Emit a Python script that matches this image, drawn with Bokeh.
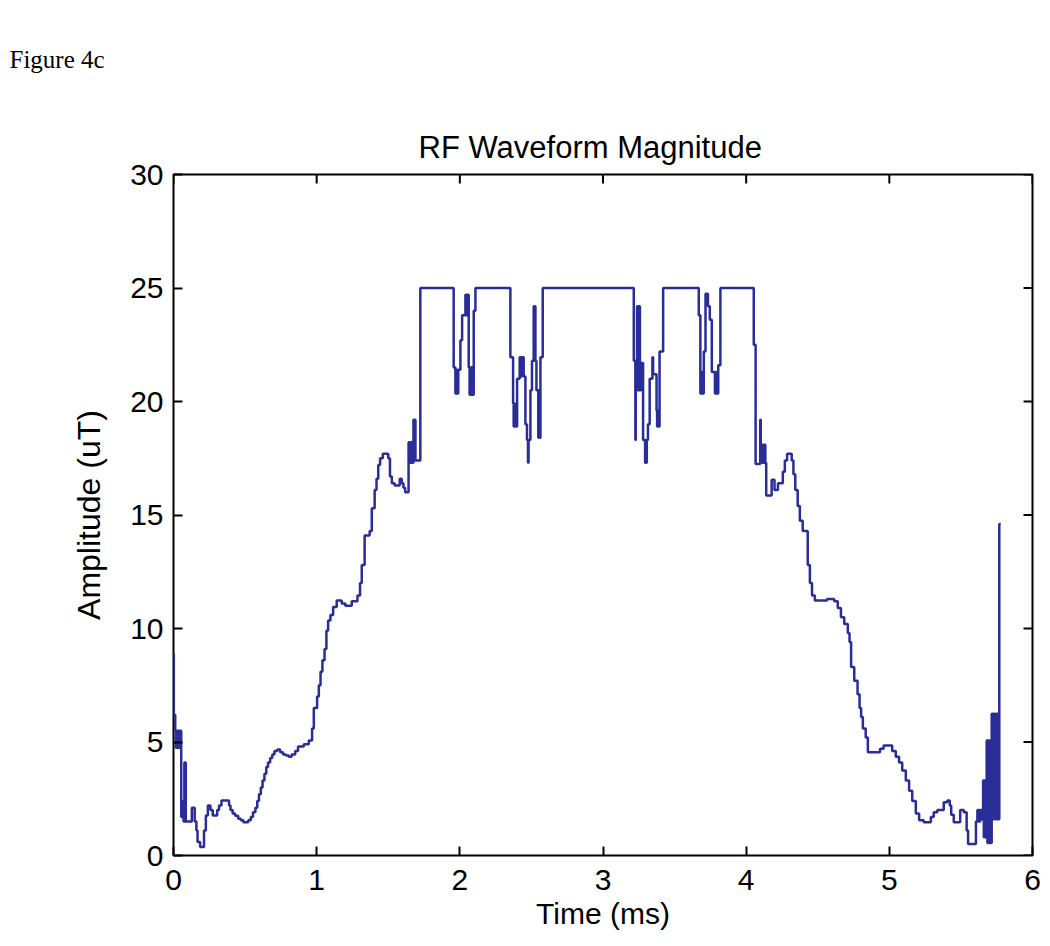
from bokeh.plotting import figure
from bokeh.models import Range1d, FixedTicker, Title
from bokeh.embed import file_html
from bokeh.resources import INLINE

# ---- data (step waveform) ----
time_ms = [
    0.000, 0.002, 0.012, 0.016, 0.020, 0.024, 0.028, 0.032, 0.036, 0.040, 0.044, 0.048, 0.052,
    0.054, 0.058, 0.062, 0.066, 0.070, 0.076, 0.080, 0.083, 0.086, 0.128, 0.148,
    0.160, 0.168, 0.186, 0.213, 0.226, 0.240, 0.258, 0.274, 0.305, 0.318, 0.335, 0.388,
    0.398, 0.413, 0.430, 0.452, 0.470, 0.488, 0.522, 0.540, 0.555, 0.572, 0.585, 0.597,
    0.610, 0.622, 0.635, 0.648, 0.660, 0.675, 0.690, 0.705, 0.725, 0.745, 0.765, 0.785,
    0.805, 0.825, 0.850, 0.870, 0.910, 0.945, 0.968, 0.980, 1.003, 1.015, 1.027, 1.040,
    1.055, 1.068, 1.080, 1.096, 1.115, 1.140, 1.175, 1.200, 1.245, 1.285, 1.303, 1.315,
    1.335, 1.370, 1.385, 1.405, 1.418, 1.430, 1.443, 1.462, 1.500, 1.512, 1.525, 1.545,
    1.580, 1.594, 1.606, 1.618, 1.642, 1.646, 1.650, 1.654, 1.658, 1.662, 1.666, 1.670,
    1.676, 1.680, 1.684, 1.690, 1.724,
    1.957, 1.969, 1.973, 1.977, 1.981, 1.985, 1.989, 2.004, 2.016, 2.039, 2.043, 2.047,
    2.051, 2.055, 2.062, 2.068, 2.072, 2.076, 2.080, 2.084, 2.088, 2.092, 2.097, 2.109,
    2.353, 2.372, 2.376, 2.380, 2.384, 2.388, 2.392, 2.400, 2.418, 2.422, 2.426, 2.430,
    2.434, 2.446, 2.458, 2.469, 2.476, 2.480, 2.493, 2.504, 2.516, 2.520, 2.524, 2.528,
    2.535, 2.548, 2.552, 2.556, 2.563, 2.579,
    3.215, 3.226, 3.229, 3.238, 3.242, 3.246, 3.250, 3.254, 3.258, 3.266, 3.280, 3.294,
    3.298, 3.302, 3.306, 3.314, 3.326, 3.345, 3.350, 3.374, 3.378, 3.382, 3.386, 3.395,
    3.420,
    3.669, 3.680, 3.684, 3.688, 3.692, 3.696, 3.704, 3.716, 3.733, 3.746, 3.760, 3.782,
    3.786, 3.790, 3.794, 3.798, 3.805, 3.820,
    4.053, 4.066, 4.098, 4.102, 4.106, 4.110, 4.114, 4.118, 4.122, 4.126, 4.130, 4.134,
    4.140, 4.178, 4.198, 4.222, 4.256, 4.270, 4.286, 4.318, 4.330, 4.343, 4.360, 4.375,
    4.395, 4.430, 4.445, 4.460, 4.480, 4.565, 4.615, 4.640, 4.662, 4.685, 4.710, 4.722,
    4.733, 4.755, 4.778, 4.792, 4.803, 4.815, 4.835, 4.850, 4.935, 4.960, 5.020, 5.045,
    5.068, 5.090, 5.115, 5.138, 5.160, 5.185, 5.208, 5.240, 5.290, 5.310, 5.335, 5.380,
    5.405, 5.422, 5.432, 5.450, 5.495, 5.520, 5.540, 5.550, 5.605, 5.615, 5.620, 5.625,
    5.630, 5.635, 5.645, 5.655, 5.660, 5.665, 5.670, 5.680, 5.685, 5.690, 5.695, 5.700,
    5.705, 5.715, 5.720, 5.725, 5.730, 5.735, 5.740, 5.745, 5.750, 5.755, 5.760, 5.768,
    5.778,
]
amplitude_ut = [
    8.9, 6.2, 5.5, 4.75, 5.5, 4.75, 5.5, 4.75, 5.5, 4.75, 5.5, 4.75, 5.5,
    1.7, 2.4, 1.7, 2.4, 1.5, 4.1, 1.5, 4.1, 1.5, 2.1, 1.5,
    1.1, 0.6, 0.37, 1.1, 1.76, 2.2, 2.0, 1.76, 2.0, 2.2, 2.42, 2.2,
    2.0, 1.85, 1.75, 1.62, 1.55, 1.47, 1.55, 1.7, 1.9, 2.1, 2.4, 2.7,
    3.0, 3.3, 3.6, 3.9, 4.1, 4.3, 4.45, 4.6, 4.67, 4.55, 4.45, 4.4,
    4.35, 4.45, 4.6, 4.8, 4.9, 5.07, 5.6, 6.5, 7.0, 7.5, 8.1, 8.6,
    9.1, 9.9, 10.35, 10.6, 10.95, 11.23, 11.1, 11.0, 11.2, 11.45, 12.0, 12.8,
    14.1, 14.3, 15.3, 16.1, 16.6, 17.2, 17.5, 17.7, 17.5, 16.7, 16.4, 16.3,
    16.6, 16.4, 16.2, 16.0, 18.2, 17.3, 18.2, 17.3, 18.2, 17.3, 18.2, 17.3,
    19.2, 17.4, 19.2, 17.4, 25.0,
    21.5, 20.35, 21.4, 20.35, 21.4, 20.35, 21.4, 22.7, 23.8, 24.7, 23.8, 24.7,
    23.8, 24.7, 21.5, 20.3, 21.5, 20.3, 21.5, 20.3, 21.5, 20.3, 24.0, 25.0,
    21.95, 19.9, 18.9, 19.9, 18.9, 19.9, 18.9, 21.0, 21.95, 21.1, 21.95, 21.1,
    21.95, 21.1, 19.0, 18.3, 17.3, 18.3, 20.5, 21.8, 24.2, 21.8, 24.2, 21.8,
    20.5, 18.4, 20.5, 18.4, 21.95, 25.0,
    21.8, 18.3, 21.8, 24.2, 20.5, 24.2, 20.5, 24.2, 20.5, 21.7, 18.3, 17.3,
    18.3, 17.3, 18.3, 19.0, 21.0, 21.95, 21.2, 19.6, 18.9, 19.6, 18.9, 22.2,
    25.0,
    23.8, 20.35, 21.3, 20.35, 21.3, 20.35, 22.2, 24.75, 24.2, 23.6, 21.3, 20.35,
    21.3, 20.35, 21.3, 20.35, 21.6, 25.0,
    22.5, 17.25, 19.2, 17.3, 18.1, 17.3, 18.1, 17.3, 18.1, 17.3, 18.1, 17.3,
    15.86, 16.55, 16.1, 16.4, 16.9, 17.4, 17.7, 17.4, 16.8, 16.1, 15.4, 14.75,
    14.3, 12.8, 12.0, 11.45, 11.23, 11.3, 11.2, 10.9, 10.5, 10.2, 9.8, 9.4,
    8.3, 7.7, 7.1, 6.5, 6.1, 5.6, 5.2, 4.55, 4.7, 4.85, 4.6, 4.35,
    4.1, 3.75, 3.3, 2.85, 2.4, 1.85, 1.55, 1.47, 1.7, 1.9, 2.0, 2.35,
    2.42, 2.2, 1.8, 1.47, 2.0, 1.9, 1.1, 0.51, 1.5, 2.0, 1.5, 2.0,
    1.5, 2.0, 1.6, 3.3, 0.8, 3.3, 0.8, 5.07, 0.55, 5.07, 0.55, 5.07,
    0.55, 6.24, 1.6, 6.24, 1.6, 6.24, 1.6, 6.24, 1.6, 6.24, 1.6, 14.6,
    14.6,
]

x_ticks = [0, 1, 2, 3, 4, 5, 6]
y_ticks = [0, 5, 10, 15, 20, 25, 30]
title_text = "RF Waveform Magnitude"
x_label = "Time (ms)"
y_label = "Amplitude (uT)"
figure_caption = "Figure 4c"

FONT = "Liberation Sans"
LINE_COLOR = "#2A2D98"
X0, X1, Y0, Y1 = 0, 6, 0, 30
FRAME_W, FRAME_H = 859, 681
TICK_PX = 9

p = figure(
    frame_width=FRAME_W, frame_height=FRAME_H,
    x_range=Range1d(X0, X1), y_range=Range1d(Y0, Y1),
    output_backend="svg", toolbar_location=None,
    min_border_left=173, min_border_right=10,
    min_border_top=174, min_border_bottom=83,
    background_fill_color="white", border_fill_color="white",
)
p.outline_line_color = "black"
p.outline_line_width = 2
p.xgrid.visible = False
p.ygrid.visible = False

for ax, ticks, label in ((p.xaxis[0], x_ticks, x_label), (p.yaxis[0], y_ticks, y_label)):
    ax.ticker = FixedTicker(ticks=ticks)
    ax.axis_label = label
    ax.axis_label_text_font = FONT
    ax.axis_label_text_font_size = "30px"
    ax.axis_label_text_font_style = "normal"
    ax.axis_label_text_color = "black"
    ax.major_label_text_font = FONT
    ax.major_label_text_font_size = "30px"
    ax.major_label_text_color = "black"
    ax.major_tick_in = TICK_PX
    ax.major_tick_out = 0
    ax.major_tick_line_width = 2
    ax.major_tick_line_color = "black"
    ax.minor_tick_line_color = None
    ax.axis_line_color = None

p.yaxis[0].axis_label_text_font_size = "32px"
p.xaxis[0].major_label_standoff = 14
p.xaxis[0].axis_label_standoff = 4
p.yaxis[0].major_label_standoff = 10
p.yaxis[0].axis_label_standoff = 20

# mirrored tick marks on the top and right edges (box style)
dy = TICK_PX * (Y1 - Y0) / FRAME_H
dx = TICK_PX * (X1 - X0) / FRAME_W
p.segment(x0=x_ticks, y0=[Y1] * len(x_ticks), x1=x_ticks, y1=[Y1 - dy] * len(x_ticks),
          line_color="black", line_width=2)
p.segment(x0=[X1] * len(y_ticks), y0=y_ticks, x1=[X1 - dx] * len(y_ticks), y1=y_ticks,
          line_color="black", line_width=2)

p.step(time_ms, amplitude_ut, mode="after", line_color=LINE_COLOR, line_width=2.5)

# above panel, from the frame outward: chart title, then the page caption
p.add_layout(Title(text=title_text, align="left", offset=245, text_font=FONT,
                   text_font_size="31px", text_font_style="normal",
                   text_color="black", standoff=20), "above")

p.title.text = figure_caption
p.title.align = "left"
p.title.vertical_align = "top"
p.title.offset = -164
p.title.text_font = "Liberation Serif"
p.title.text_font_size = "25px"
p.title.text_font_style = "normal"
p.title.text_color = "black"
p.title.standoff = 85

open("out.html", "w").write(file_html(p, INLINE))
